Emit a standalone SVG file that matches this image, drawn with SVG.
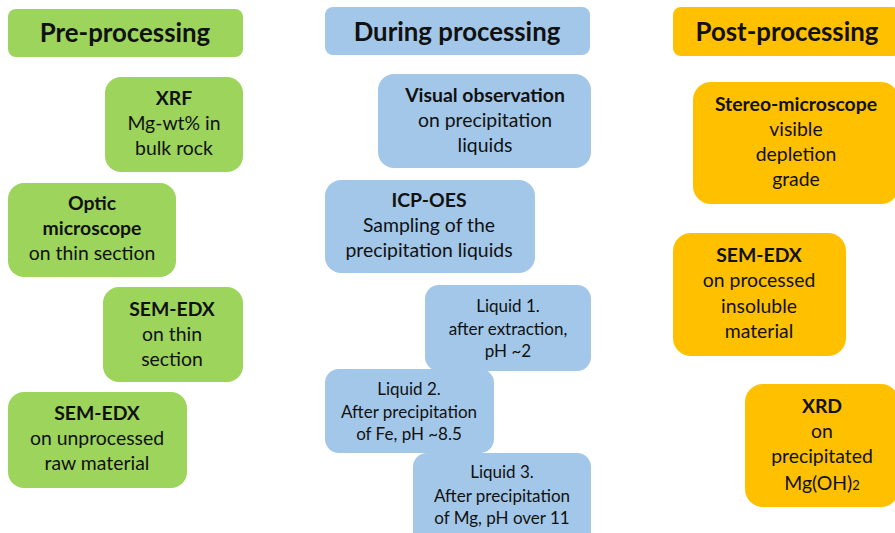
<svg xmlns="http://www.w3.org/2000/svg" width="895" height="533" viewBox="0 0 895 533">
<style>
.g{fill:#9CD45C}.b{fill:#A3C7E8}.o{fill:#FFC000}
text{font-family:Lato,"Open Sans","Liberation Sans",sans-serif;fill:#111;text-anchor:middle}
.h{font-size:25.8px;font-weight:bold}
.t{font-size:19.4px}
.s{font-size:17px}
.bd{font-weight:bold}
</style>
<rect width="895" height="533" fill="#fff"/>
<g id="pre-header"><rect class="g" x="8" y="9" width="235" height="48" rx="8"/><text class="h" x="125" y="42">Pre-processing</text></g>
<g id="xrf"><rect class="g" x="105" y="77" width="138" height="95" rx="16"/><text class="t" x="174"><tspan class="bd" x="174" y="105">XRF</tspan><tspan x="174" y="130">Mg-wt% in</tspan><tspan x="174" y="155">bulk rock</tspan></text></g>
<g id="optic"><rect class="g" x="8" y="183" width="168" height="94" rx="16"/><text class="t"><tspan class="bd" x="92" y="210">Optic</tspan><tspan class="bd" x="92" y="235">microscope</tspan><tspan x="92" y="260">on thin section</tspan></text></g>
<g id="sem-thin"><rect class="g" x="103" y="287" width="140" height="95" rx="16"/><text class="t"><tspan class="bd" x="172" y="316">SEM-EDX</tspan><tspan x="172" y="341">on thin</tspan><tspan x="172" y="366">section</tspan></text></g>
<g id="sem-raw"><rect class="g" x="8" y="392" width="179" height="96" rx="16"/><text class="t"><tspan class="bd" x="97" y="420">SEM-EDX</tspan><tspan x="97" y="445">on unprocessed</tspan><tspan x="97" y="470">raw material</tspan></text></g>

<g id="during-header"><rect class="b" x="325" y="7" width="265" height="48" rx="8"/><text class="h" x="457" y="41">During processing</text></g>
<g id="visual"><rect class="b" x="378" y="74" width="213" height="94" rx="16"/><text class="t"><tspan class="bd" x="485" y="102">Visual observation</tspan><tspan x="485" y="127">on precipitation</tspan><tspan x="485" y="152">liquids</tspan></text></g>
<g id="icp"><rect class="b" x="325" y="180" width="210" height="93" rx="16"/><text class="t"><tspan class="bd" x="429" y="207">ICP-OES</tspan><tspan x="429" y="232">Sampling of the</tspan><tspan x="429" y="257">precipitation liquids</tspan></text></g>
<g id="liquid1"><rect class="b" x="425" y="285" width="166" height="86" rx="14"/><text class="s"><tspan x="508" y="312">Liquid 1.</tspan><tspan x="508" y="335">after extraction,</tspan><tspan x="508" y="357">pH ~2</tspan></text></g>
<g id="liquid2"><rect class="b" x="325" y="369" width="169" height="84" rx="14"/><text class="s"><tspan x="409" y="395">Liquid 2.</tspan><tspan x="409" y="418">After precipitation</tspan><tspan x="409" y="440">of Fe, pH ~8.5</tspan></text></g>
<g id="liquid3"><rect class="b" x="413" y="453" width="178" height="95" rx="14"/><text class="s"><tspan x="502" y="478">Liquid 3.</tspan><tspan x="502" y="502">After precipitation</tspan><tspan x="502" y="524">of Mg, pH over 11</tspan></text></g>

<g id="post-header"><rect class="o" x="673" y="7" width="228" height="49" rx="8"/><text class="h" x="787" y="41">Post-processing</text></g>
<g id="stereo"><rect class="o" x="693" y="82" width="206" height="122" rx="18"/><text class="t"><tspan class="bd" x="796" y="111">Stereo-microscope</tspan><tspan x="796" y="136">visible</tspan><tspan x="796" y="161">depletion</tspan><tspan x="796" y="186">grade</tspan></text></g>
<g id="sem-processed"><rect class="o" x="673" y="233" width="173" height="123" rx="18"/><text class="t"><tspan class="bd" x="759" y="262">SEM-EDX</tspan><tspan x="759" y="287">on processed</tspan><tspan x="759" y="313">insoluble</tspan><tspan x="759" y="338">material</tspan></text></g>
<g id="xrd"><rect class="o" x="745" y="384" width="154" height="123" rx="18"/><text class="t"><tspan class="bd" x="822" y="413">XRD</tspan><tspan x="822" y="438">on</tspan><tspan x="822" y="463">precipitated</tspan><tspan x="822" y="490">Mg(OH)<tspan font-size="13px">2</tspan></tspan></text></g>
</svg>
